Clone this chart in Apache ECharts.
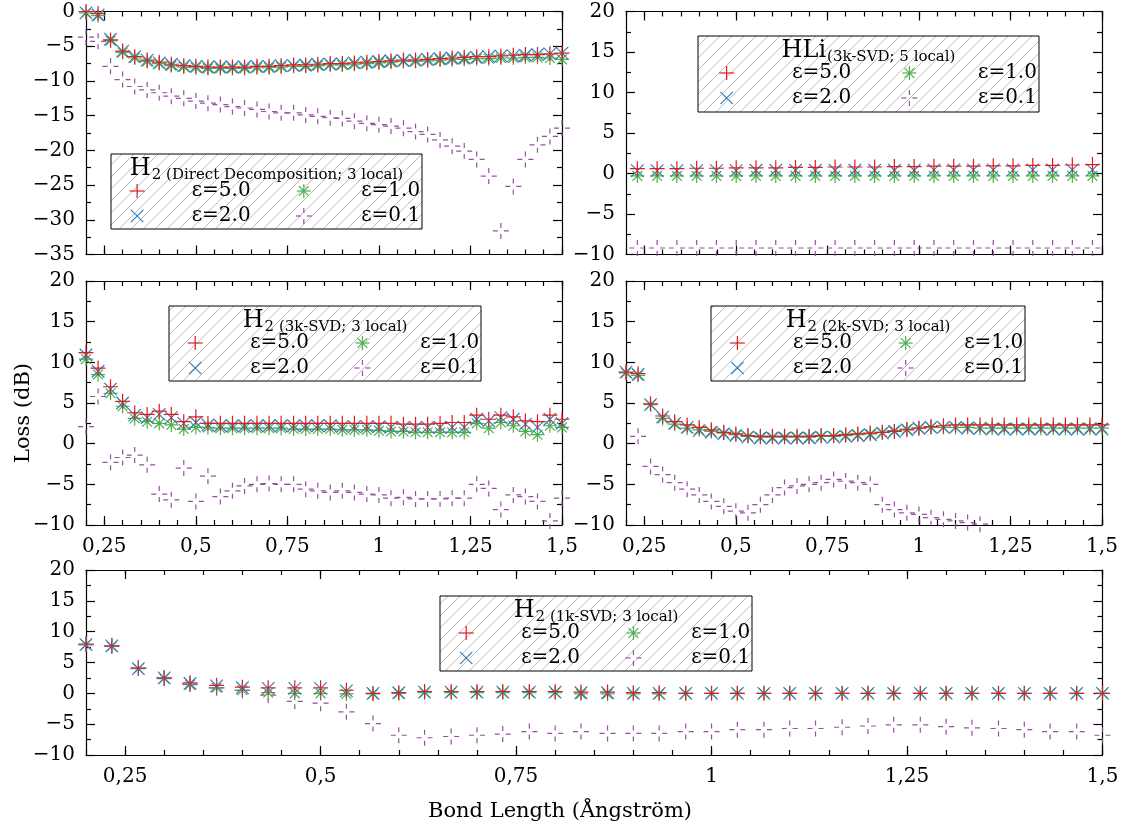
<!DOCTYPE html>
<html>
<head>
<meta charset="utf-8">
<script src="https://cdn.jsdelivr.net/npm/echarts@6.0.0/dist/echarts.min.js"></script>
<style>
html, body { margin: 0; padding: 0; background: #fff; }
#chart { width: 1125px; height: 832px; }
</style>
</head>
<body>
<div id="chart"></div>
<script>
// bond lengths (Angstrom)
var bondLength = [0.2, 0.233, 0.267, 0.3, 0.333, 0.367, 0.4, 0.433, 0.467, 0.5,
    0.533, 0.567, 0.6, 0.633, 0.667, 0.7, 0.733, 0.767, 0.8, 0.833,
    0.867, 0.9, 0.933, 0.967, 1.0, 1.033, 1.067, 1.1, 1.133, 1.167,
    1.2, 1.233, 1.267, 1.3, 1.333, 1.367, 1.4, 1.433, 1.467, 1.5];
var bondLengthHLi = [0.231, 0.285, 0.339, 0.393, 0.447, 0.501, 0.555, 0.609, 0.663, 0.717,
    0.771, 0.825, 0.879, 0.933, 0.987, 1.041, 1.095, 1.149, 1.203, 1.257,
    1.311, 1.365, 1.419, 1.474];
var xTickLabels = [0.25, 0.5, 0.75, 1, 1.25, 1.5];
var epsLabels = ['ε=5.0', 'ε=2.0', 'ε=1.0', 'ε=0.1'];

// H2, direct decomposition, 3 local
var ddEps5 = [0.0, -0.3, -4.1, -5.7, -6.5, -7.0, -7.3, -7.6, -7.8, -7.9,
    -8.0, -8.0, -8.0, -8.0, -7.9, -7.9, -7.8, -7.7, -7.7, -7.6,
    -7.5, -7.5, -7.4, -7.3, -7.2, -7.1, -7.0, -7.0, -6.9, -6.8,
    -6.7, -6.6, -6.5, -6.5, -6.4, -6.3, -6.2, -6.2, -6.1, -6.0];
var ddEps2 = [-0.2, -0.5, -4.0, -5.7, -6.5, -7.0, -7.4, -7.6, -7.8, -7.9,
    -8.0, -8.0, -8.0, -8.0, -7.9, -7.9, -7.8, -7.8, -7.7, -7.6,
    -7.6, -7.5, -7.4, -7.3, -7.2, -7.1, -7.1, -7.0, -6.9, -6.8,
    -6.7, -6.7, -6.6, -6.5, -6.4, -6.4, -6.3, -6.2, -6.1, -6.0];
var ddEps1 = [-0.2, -0.6, -4.2, -5.9, -6.7, -7.2, -7.5, -7.8, -8.0, -8.1,
    -8.2, -8.2, -8.2, -8.2, -8.1, -8.1, -8.0, -7.9, -7.9, -7.8,
    -7.7, -7.7, -7.6, -7.5, -7.4, -7.3, -7.2, -7.2, -7.1, -7.0,
    -6.9, -6.9, -6.8, -6.8, -6.7, -6.7, -6.6, -6.6, -6.7, -6.9];
var ddEps01 = [-3.7, -4.3, -7.9, -9.8, -10.8, -11.3, -11.7, -12.2, -12.5, -12.9,
    -13.2, -13.4, -13.7, -13.9, -14.1, -14.4, -14.6, -14.6, -14.9, -15.1,
    -15.3, -15.4, -15.8, -16.1, -16.3, -16.5, -16.8, -17.3, -17.7, -18.5,
    -19.4, -20.1, -21.3, -23.7, -31.6, -25.2, -21.3, -19.2, -18.0, -16.8];

// HLi, 3k-SVD, 5 local
var hliEps5 = [0.6, 0.6, 0.6, 0.65, 0.65, 0.7, 0.7, 0.7, 0.75, 0.75, 0.8, 0.8,
    0.8, 0.85, 0.85, 0.9, 0.9, 0.9, 0.95, 0.95, 1.0, 1.0, 1.05, 1.1];
var hliEps2 = [0.35, 0.35, 0.35, 0.35, 0.35, 0.35, 0.4, 0.4, 0.4, 0.4, 0.4, 0.4,
    0.4, 0.4, 0.4, 0.45, 0.45, 0.45, 0.45, 0.45, 0.45, 0.45, 0.45, 0.45];
var hliEps1 = [-0.3, -0.3, -0.3, -0.3, -0.3, -0.3, -0.3, -0.3, -0.3, -0.3, -0.3, -0.3,
    -0.3, -0.3, -0.3, -0.3, -0.3, -0.3, -0.3, -0.3, -0.3, -0.3, -0.3, -0.3];
var hliEps01 = [-9.2, -9.2, -9.2, -9.2, -9.2, -9.2, -9.2, -9.2, -9.2, -9.2, -9.2, -9.2,
    -9.2, -9.2, -9.2, -9.2, -9.2, -9.2, -9.2, -9.2, -9.2, -9.2, -9.2, -9.2];

// H2, 3k-SVD, 3 local
var svd3Eps5 = [11.2, 9.3, 7.0, 5.2, 3.8, 3.6, 4.0, 3.6, 2.7, 3.3,
    2.5, 2.5, 2.5, 2.5, 2.5, 2.5, 2.5, 2.5, 2.5, 2.5,
    2.5, 2.5, 2.5, 2.5, 2.5, 2.5, 2.4, 2.4, 2.4, 2.5,
    2.6, 2.6, 3.5, 3.0, 3.5, 3.3, 2.8, 2.7, 3.5, 3.0];
var svd3Eps2 = [10.9, 8.9, 6.7, 5.0, 3.5, 3.2, 3.6, 3.2, 2.5, 2.6,
    2.3, 2.2, 2.2, 2.2, 2.2, 2.2, 2.2, 2.2, 2.2, 2.2,
    2.2, 2.1, 2.1, 2.1, 2.1, 2.0, 2.0, 2.0, 2.0, 2.0,
    2.0, 2.0, 3.0, 2.8, 3.2, 3.0, 2.4, 2.0, 3.0, 2.5];
var svd3Eps1 = [10.4, 8.5, 6.2, 4.6, 3.1, 2.7, 2.5, 2.3, 1.8, 2.0,
    2.0, 1.9, 1.9, 1.9, 1.9, 1.9, 1.9, 1.8, 1.8, 1.8,
    1.8, 1.7, 1.7, 1.7, 1.6, 1.5, 1.5, 1.4, 1.4, 1.4,
    1.4, 1.4, 2.5, 1.9, 2.6, 2.2, 1.5, 1.1, 2.2, 2.0];
var svd3Eps01 = [2.1, 5.8, -2.3, -1.7, -1.4, -2.6, -6.2, -6.9, -3.0, -7.1,
    -4.0, -6.5, -5.8, -5.2, -5.0, -4.9, -5.0, -5.0, -5.6, -5.8,
    -6.0, -5.8, -6.0, -6.2, -6.3, -6.7, -6.6, -6.8, -6.8, -6.8,
    -6.7, -6.7, -5.0, -5.5, -8.1, -6.3, -6.5, -7.1, -9.5, -6.7];

// H2, 2k-SVD, 3 local
var svd2Eps5 = [8.8, 8.6, 4.9, 3.4, 2.7, 2.3, 2.0, 1.7, 1.4, 1.2,
    1.0, 0.9, 0.9, 0.9, 0.9, 0.9, 1.0, 1.0, 1.1, 1.2,
    1.3, 1.4, 1.5, 1.7, 1.9, 2.1, 2.2, 2.3, 2.3, 2.3,
    2.3, 2.3, 2.3, 2.3, 2.3, 2.3, 2.3, 2.3, 2.3, 2.3];
var svd2Eps2 = [8.8, 8.5, 4.8, 3.3, 2.5, 2.0, 1.6, 1.4, 1.2, 1.0,
    0.8, 0.7, 0.7, 0.7, 0.7, 0.7, 0.8, 0.8, 0.9, 1.0,
    1.1, 1.3, 1.5, 1.7, 1.9, 2.0, 2.0, 2.0, 1.9, 1.9,
    1.8, 1.8, 1.8, 1.8, 1.8, 1.8, 1.8, 1.8, 1.8, 1.8];
var svd2Eps1 = [8.7, 8.4, 4.8, 3.1, 2.4, 1.9, 1.7, 1.5, 1.3, 1.1,
    0.9, 0.8, 0.8, 0.8, 0.8, 0.8, 0.9, 0.9, 1.0, 1.1,
    1.2, 1.4, 1.6, 1.8, 1.9, 2.0, 2.0, 2.0, 2.0, 1.9,
    1.9, 1.9, 1.9, 1.9, 1.9, 1.9, 1.9, 1.9, 1.9, 1.9];
var svd2Eps01 = [null, 0.9, -2.8, -3.8, -4.8, -5.6, -6.3, -7.1, -7.7, -8.3,
    -8.5, -7.5, -6.3, -5.4, -5.2, -5.0, -4.8, -4.4, -4.6, -4.8,
    -5.0, -7.5, -8.1, -8.5, -8.7, -9.1, -9.3, -9.5, -9.7, -9.9,
    -10.3, -10.4, -10.4, -10.5, -10.5, -10.5, -10.5, -10.5, -10.5, -10.5];

// H2, 1k-SVD, 3 local
var svd1Eps5 = [8.0, 7.7, 4.1, 2.5, 1.7, 1.3, 1.0, 0.9, 0.9, 0.9,
    0.5, 0.0, 0.1, 0.3, 0.3, 0.3, 0.3, 0.3, 0.3, 0.2,
    0.2, 0.1, 0.1, 0.0, 0.0, 0.0, 0.0, 0.0, 0.0, 0.0,
    0.0, 0.0, 0.0, 0.0, 0.0, 0.0, 0.0, 0.0, 0.0, 0.0];
var svd1Eps2 = [7.9, 7.7, 4.0, 2.5, 1.6, 1.2, 0.9, 0.8, 0.8, 0.8,
    0.4, 0.0, 0.1, 0.2, 0.2, 0.2, 0.2, 0.2, 0.2, 0.1,
    0.1, 0.0, 0.0, 0.0, 0.0, 0.0, 0.0, 0.0, 0.0, 0.0,
    0.0, 0.0, 0.0, 0.0, 0.0, 0.0, 0.0, 0.0, 0.0, 0.0];
var svd1Eps1 = [7.9, 7.6, 4.0, 2.4, 1.4, 0.9, 0.5, 0.1, 0.0, 0.0,
    -0.1, -0.1, 0.0, 0.1, 0.1, 0.1, 0.1, 0.1, 0.1, -0.1,
    -0.1, -0.1, -0.1, 0.0, 0.0, 0.0, 0.0, 0.0, 0.0, 0.0,
    0.0, 0.0, 0.0, 0.0, 0.0, 0.0, 0.0, 0.0, 0.0, 0.0];
var svd1Eps01 = [7.9, 7.7, 4.1, 2.5, 1.5, 0.9, 0.5, -0.3, -1.3, -1.6,
    -3.0, -4.9, -6.8, -7.2, -7.0, -6.8, -6.6, -6.2, -6.5, -6.2,
    -6.5, -6.5, -6.5, -6.2, -6.2, -5.9, -5.9, -5.7, -5.7, -5.5,
    -5.3, -5.1, -5.1, -5.4, -5.6, -5.7, -5.9, -6.2, -6.2, -6.8];

var FONT = 'DejaVu Serif';
var keys = ['e5', 'e2', 'e1', 'e01'];
var colors = { e5: '#e41a1c', e2: '#377eb8', e1: '#4daf4a', e01: '#984ea3' };
var symbols = {
    e5: 'path://M0,7L14,7M7,0L7,14',
    e2: 'path://M0,0L12,12M0,12L12,0',
    e1: 'path://M0,7L14,7M7,0L7,14M2.1,2.1L11.9,11.9M2.1,11.9L11.9,2.1',
    e01: 'path://M0,8L5,8M11,8L16,8M8,0L8,5M8,11L8,16'
};
var symbolSizes = { e5: 15, e2: 12.5, e1: 14, e01: 16 };
// marker segments for the legend boxes, relative to the centre
var legendSegs = {
    e5: [[-7.5, 0, 7.5, 0], [0, -7, 0, 7]],
    e2: [[-6.2, -6.2, 6.2, 6.2], [-6.2, 6.2, 6.2, -6.2]],
    e1: [[-7, 0, 7, 0], [0, -7, 0, 7], [-4.9, -4.9, 4.9, 4.9], [-4.9, 4.9, 4.9, -4.9]],
    e01: [[-8, 0, -3, 0], [3, 0, 8, 0], [0, -8, 0, -3], [0, 3, 0, 8]]
};

var panels = [
    { xs: bondLength, ys: [ddEps5, ddEps2, ddEps1, ddEps01], yMin: -35, yMax: 0, xLabels: false,
      grid: { left: 86, top: 11.5, width: 476, height: 243 },
      box: [111, 154, 311, 75], head: 'H', sub: '2 (Direct Decomposition; 3 local)' },
    { xs: bondLengthHLi, ys: [hliEps5, hliEps2, hliEps1, hliEps01], yMin: -10, yMax: 20, xLabels: false,
      grid: { left: 626, top: 11.5, width: 476, height: 243 },
      box: [698, 36, 341, 76], head: 'HLi', sub: '(3k-SVD; 5 local)' },
    { xs: bondLength, ys: [svd3Eps5, svd3Eps2, svd3Eps1, svd3Eps01], yMin: -10, yMax: 20, xLabels: true,
      grid: { left: 86, top: 281, width: 476, height: 244 },
      box: [169, 306, 312, 75], head: 'H', sub: '2 (3k-SVD; 3 local)' },
    { xs: bondLength, ys: [svd2Eps5, svd2Eps2, svd2Eps1, svd2Eps01], yMin: -10, yMax: 20, xLabels: true,
      grid: { left: 626, top: 281, width: 476, height: 244 },
      box: [711, 306, 314, 75], head: 'H', sub: '2 (2k-SVD; 3 local)' },
    { xs: bondLength, ys: [svd1Eps5, svd1Eps2, svd1Eps1, svd1Eps01], yMin: -10, yMax: 20, xLabels: true,
      grid: { left: 86, top: 570, width: 1016.5, height: 185 },
      box: [440, 596, 312, 75], head: 'H', sub: '2 (1k-SVD; 3 local)' }
];

var labelStyle = { fontFamily: FONT, fontSize: 20, color: '#000' };
var lineStyle = { color: '#000', width: 1.2 };

function fmtX(v) { return String(v).replace('.', ','); }
function fmtY(v) { return v < 0 ? '\u2212' + Math.abs(v) : String(v); }

// hatched legend background
var hatch = document.createElement('canvas');
hatch.width = 12; hatch.height = 12;
var hc = hatch.getContext('2d');
hc.fillStyle = '#fff';
hc.fillRect(0, 0, 12, 12);
hc.strokeStyle = '#bdbdbd';
hc.lineWidth = 1;
hc.beginPath();
hc.moveTo(0, 12); hc.lineTo(12, 0);
hc.moveTo(-1, 1); hc.lineTo(1, -1);
hc.moveTo(11, 13); hc.lineTo(13, 11);
hc.stroke();

var measure = document.createElement('canvas').getContext('2d');
function textWidth(t, size) {
    measure.font = size + 'px "' + FONT + '"';
    return measure.measureText(t).width;
}
function textAt(t, x, baseline, size, align) {
    return { type: 'text', z: 102, silent: true, x: x, y: baseline - 0.3 * size,
        style: { text: t, fontFamily: FONT, fontSize: size, fill: '#000', align: align, verticalAlign: 'middle' } };
}

var grids = [], xAxes = [], yAxes = [], series = [], graphics = [];

panels.forEach(function (p, gi) {
    grids.push(p.grid);
    var xBase = { gridIndex: gi, type: 'value', min: 0.2, max: 1.5, splitLine: { show: false },
        axisLine: { onZero: false, lineStyle: lineStyle } };
    ['bottom', 'top'].forEach(function (pos) {
        xAxes.push(Object.assign({}, xBase, {
            position: pos, interval: 0.05,
            axisTick: { inside: true, length: 5, lineStyle: lineStyle },
            axisLabel: (pos === 'bottom' && p.xLabels)
                ? Object.assign({ customValues: xTickLabels, formatter: fmtX, margin: 12 }, labelStyle)
                : { show: false }
        }));
        xAxes.push(Object.assign({}, xBase, {
            position: pos, axisLine: { show: false, onZero: false },
            axisTick: { inside: true, length: 9, customValues: xTickLabels, lineStyle: lineStyle },
            axisLabel: { show: false }
        }));
    });
    ['left', 'right'].forEach(function (pos) {
        yAxes.push({
            gridIndex: gi, type: 'value', position: pos, min: p.yMin, max: p.yMax, interval: 5,
            splitLine: { show: false },
            axisLine: { show: true, onZero: false, lineStyle: lineStyle },
            axisTick: { show: true, inside: true, length: 9, lineStyle: lineStyle },
            minorTick: { show: true, splitNumber: 2, length: 5, lineStyle: lineStyle },
            axisLabel: pos === 'left' ? Object.assign({ formatter: fmtY, margin: 11 }, labelStyle) : { show: false }
        });
    });

    // draw order: green, blue, red, purple
    [2, 1, 0, 3].forEach(function (si) {
        var key = keys[si];
        var pts = [];
        p.xs.forEach(function (x, i) {
            if (p.ys[si][i] !== null) pts.push([x, p.ys[si][i]]);
        });
        series.push({
            type: 'scatter', name: epsLabels[si], xAxisIndex: gi * 4, yAxisIndex: gi * 2,
            data: pts, symbol: symbols[key], symbolSize: symbolSizes[key], silent: true,
            itemStyle: { color: 'none', borderColor: colors[key], borderWidth: 1.2, opacity: 1 },
            emphasis: { disabled: true }
        });
    });

    // key box
    var L = p.box[0], T = p.box[1], W = p.box[2], H = p.box[3];
    graphics.push({ type: 'rect', z: 100, silent: true, shape: { x: L, y: T, width: W, height: H },
        style: { fill: { image: hatch, repeat: 'repeat' }, stroke: '#000', lineWidth: 1 } });
    var w1 = textWidth(p.head, 24), w2 = textWidth(p.sub, 15);
    var start = L + W / 2 - (w1 + 1 + w2) / 2;
    graphics.push(textAt(p.head, start, T + 22, 24, 'left'));
    graphics.push(textAt(p.sub, start + w1 + 1, T + 26, 15, 'left'));
    var cols = [[0.084, 0.449], [0.62, 0.994]];
    var rows = [T + 37, T + 62];
    keys.forEach(function (key, si) {
        var col = cols[Math.floor(si / 2)], cy = rows[si % 2];
        var cx = L + col[0] * W;
        legendSegs[key].forEach(function (s) {
            graphics.push({ type: 'line', z: 101, silent: true,
                shape: { x1: cx + s[0], y1: cy + s[1], x2: cx + s[2], y2: cy + s[3] },
                style: { stroke: colors[key], lineWidth: 1.2 } });
        });
        graphics.push({ type: 'text', z: 102, silent: true, x: L + col[1] * W, y: cy,
            style: { text: epsLabels[si], fontFamily: FONT, fontSize: 20, fill: '#000', align: 'right', verticalAlign: 'middle' } });
    });
});

graphics.push({ type: 'text', z: 102, silent: true, x: 23.5, y: 413, rotation: Math.PI / 2,
    style: { text: 'Loss (dB)', fontFamily: FONT, fontSize: 21, fill: '#000', align: 'center', verticalAlign: 'middle' } });
graphics.push({ type: 'text', z: 102, silent: true, x: 560, y: 812,
    style: { text: 'Bond Length (Ångström)', fontFamily: FONT, fontSize: 21, fill: '#000', align: 'center', verticalAlign: 'middle' } });

var chart = echarts.init(document.getElementById('chart'), null, { renderer: 'canvas' });
chart.setOption({
    backgroundColor: '#fff',
    animation: false,
    grid: grids,
    xAxis: xAxes,
    yAxis: yAxes,
    series: series,
    graphic: graphics
});
</script>
</body>
</html>
